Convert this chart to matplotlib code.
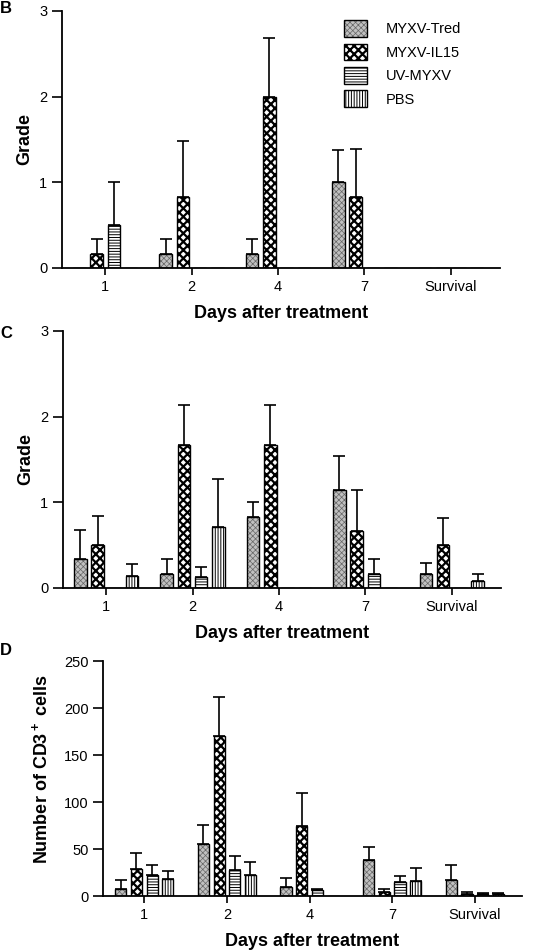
import matplotlib
matplotlib.use("Agg")
import matplotlib.pyplot as plt
from matplotlib.patches import Patch, Rectangle
from matplotlib.legend_handler import HandlerTuple
import numpy as np

plt.rcParams['font.family'] = ['Liberation Sans', 'DejaVu Sans']
plt.rcParams['mathtext.default'] = 'regular'

days = ['1', '2', '4', '7', 'Survival']
groups = ['MYXV-Tred', 'MYXV-IL15', 'UV-MYXV', 'PBS']

# panel B - grade
b_tred = [0, 0.167, 0.167, 1.0, 0]
b_il15 = [0.167, 0.833, 2.0, 0.833, 0]
b_uv = [0.5, 0, 0, 0, 0]
b_pbs = [0, 0, 0, 0, 0]
b_tred_err = [0, 0.167, 0.167, 0.38, 0]
b_il15_err = [0.167, 0.65, 0.68, 0.55, 0]
b_uv_err = [0.5, 0, 0, 0, 0]
b_pbs_err = [0, 0, 0, 0, 0]

# panel C - grade
c_tred = [0.333, 0.167, 0.833, 1.14, 0.167]
c_il15 = [0.5, 1.667, 1.667, 0.667, 0.5]
c_uv = [0, 0.125, 0, 0.167, 0]
c_pbs = [0.143, 0.714, 0, 0, 0.083]
c_tred_err = [0.34, 0.167, 0.167, 0.40, 0.13]
c_il15_err = [0.34, 0.47, 0.47, 0.48, 0.32]
c_uv_err = [0, 0.125, 0, 0.167, 0]
c_pbs_err = [0.14, 0.56, 0, 0, 0.083]

# panel D - CD3+ cells
d_tred = [8, 55, 10, 38, 17]
d_il15 = [29, 170, 74, 4, 2]
d_uv = [22, 28, 6, 15, 2]
d_pbs = [18, 22, 0, 16, 2]
d_tred_err = [9, 21, 9, 14, 16]
d_il15_err = [17, 42, 36, 4, 2]
d_uv_err = [11, 15, 1, 6, 1]
d_pbs_err = [9, 14, 0, 14, 1]

# (facecolor, hatch, hatch colour, hatch linewidth)
styles = [
    ('#c0c0c0', 'xxxxxx', '#666666', 0.5),
    ('white', 'xxxx', 'black', 1.6),
    ('white', '------', 'black', 0.7),
    ('white', '||||||', 'black', 0.7),
]
hatch_lw = {s[1]: s[3] for s in styles}


def set_hlw(p, lw):
    try:
        p.set_hatch_linewidth(lw)
    except AttributeError:
        p._hatch_linewidth = lw


def panel(ax, values, errors, spacing, width, ylim, yticks, ylabel):
    x = np.arange(len(days))
    for i, (vals, errs) in enumerate(zip(values, errors)):
        pos = x + (i - 1.5) * spacing
        fc, hatch, hc, hlw = styles[i]
        plt.rcParams['hatch.linewidth'] = hlw
        # hatched fill, then black outline on top
        ax.bar(pos, vals, width, facecolor=fc, edgecolor=hc, hatch=hatch,
               linewidth=0, zorder=2)
        ax.bar(pos, vals, width, facecolor='none', edgecolor='black',
               linewidth=1.0, zorder=3)
        vals = np.array(vals, dtype=float)
        errs = np.array(errs, dtype=float)
        m = errs > 0
        ax.errorbar(pos[m], vals[m], yerr=[np.zeros(m.sum()), errs[m]],
                    fmt='none', ecolor='black', elinewidth=1.2, capsize=4,
                    capthick=1.2, zorder=1)
    ax.set_xticks(x)
    ax.set_xticklabels(days, fontsize=10.5)
    ax.set_xlim(-0.5, 4.57)
    ax.set_ylim(*ylim)
    ax.set_yticks(yticks)
    ax.tick_params(axis='y', labelsize=10.5, length=7, width=1.2)
    ax.tick_params(axis='x', length=5, width=1.2)
    for s in ['top', 'right']:
        ax.spines[s].set_visible(False)
    for s in ['left', 'bottom']:
        ax.spines[s].set_linewidth(1.3)
    ax.set_xlabel('Days after treatment', fontsize=13, fontweight='bold', labelpad=8)
    ax.set_ylabel(ylabel, fontsize=13, fontweight='bold')


fig = plt.figure(figsize=(5.42, 9.52), dpi=100)

axB = fig.add_axes([0.1144, 0.7185, 0.808, 0.270])
panel(axB, [b_tred, b_il15, b_uv, b_pbs],
      [b_tred_err, b_il15_err, b_uv_err, b_pbs_err],
      0.2, 0.145, (0, 3), [0, 1, 2, 3], 'Grade')
axB.yaxis.set_label_coords(-0.065, 0.5)

# legend: hatched fill + black outline overlaid
handles = []
for i, g in enumerate(groups):
    fc, hatch, hc, hlw = styles[i]
    fill = Patch(facecolor=fc, edgecolor=hc, hatch=hatch, linewidth=0)
    outline = Patch(facecolor='none', edgecolor='black', linewidth=1.0)
    handles.append((fill, outline))
leg = axB.legend(handles=handles, labels=groups, frameon=False, loc='upper left',
                 bbox_to_anchor=(0.615, 1.015), fontsize=10.5, handlelength=1.55,
                 handleheight=1.4, labelspacing=0.45, handletextpad=1.3,
                 handler_map={tuple: HandlerTuple(ndivide=1, pad=0)})
for p in leg.findobj(Rectangle):
    h = p.get_hatch()
    if h in hatch_lw:
        set_hlw(p, hatch_lw[h])

axC = fig.add_axes([0.1162, 0.3824, 0.808, 0.270])
panel(axC, [c_tred, c_il15, c_uv, c_pbs],
      [c_tred_err, c_il15_err, c_uv_err, c_pbs_err],
      0.2, 0.145, (0, 3), [0, 1, 2, 3], 'Grade')
axC.yaxis.set_label_coords(-0.065, 0.5)

axD = fig.add_axes([0.19, 0.0588, 0.773, 0.2468])
panel(axD, [d_tred, d_il15, d_uv, d_pbs],
      [d_tred_err, d_il15_err, d_uv_err, d_pbs_err],
      0.19, 0.135, (0, 250), [0, 50, 100, 150, 200, 250],
      r'Number of CD3$^+$ cells')
axD.yaxis.set_label_coords(-0.125, 0.54)

for letter, y in [('B', 0.999), ('C', 0.658), ('D', 0.325)]:
    fig.text(0.0, y, letter, fontsize=12, fontweight='bold', va='top', ha='left')

fig.savefig('out.png', dpi=100)
